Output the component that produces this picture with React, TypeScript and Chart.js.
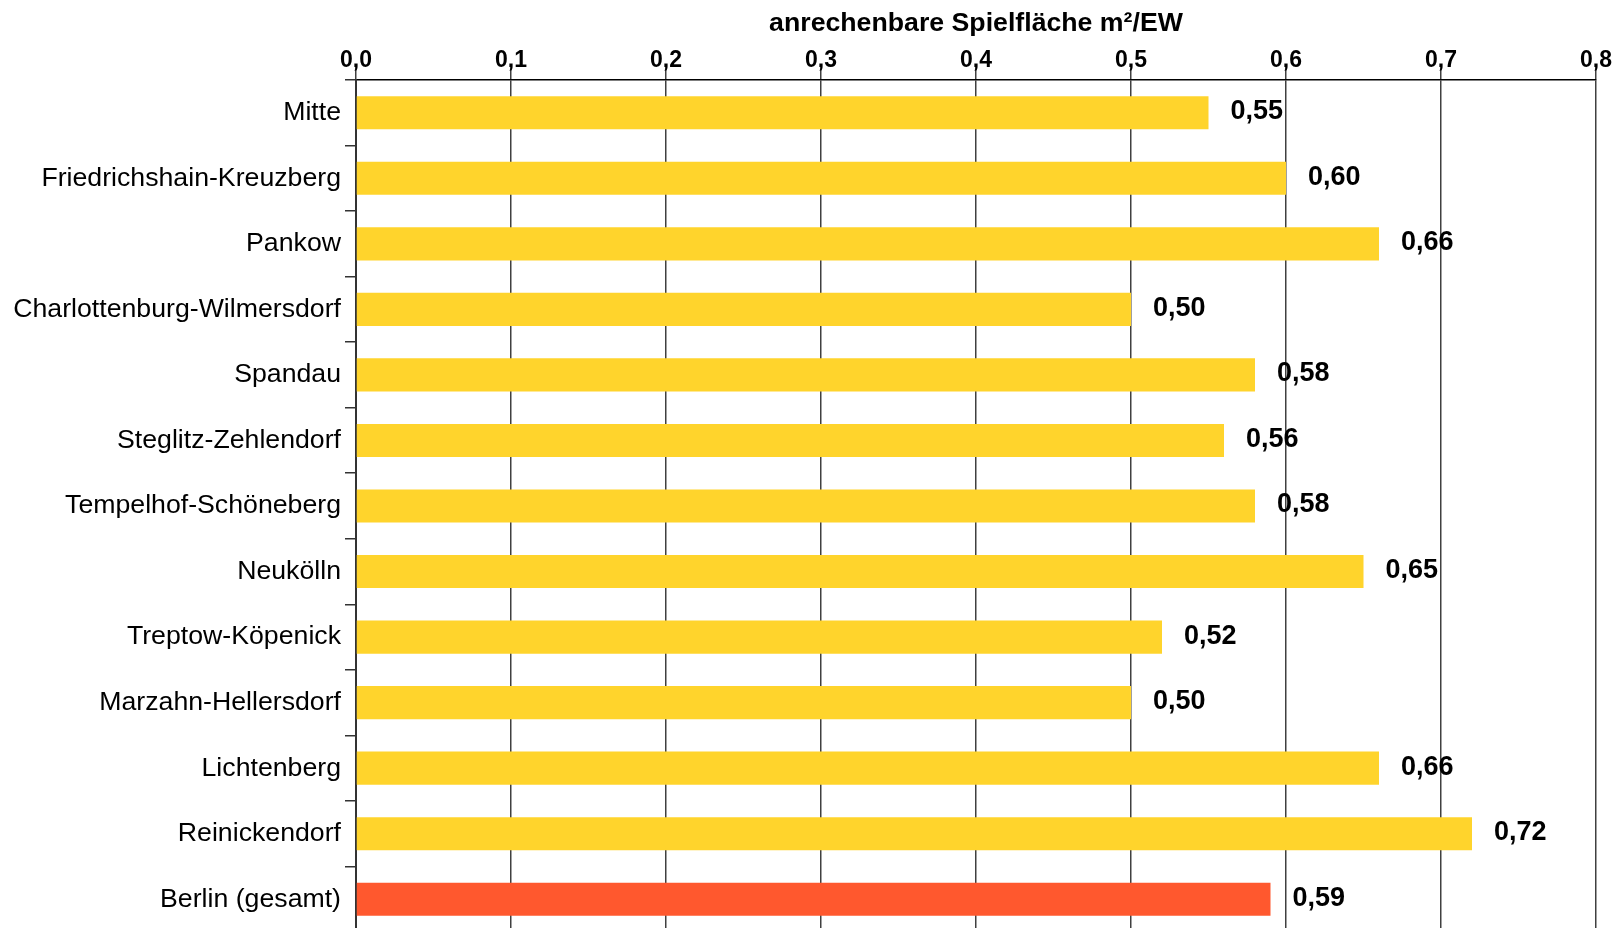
import React, { useEffect, useRef } from "react";
import { Chart, registerables } from "chart.js";

Chart.register(...registerables);

const categories = [
  "Mitte",
  "Friedrichshain-Kreuzberg",
  "Pankow",
  "Charlottenburg-Wilmersdorf",
  "Spandau",
  "Steglitz-Zehlendorf",
  "Tempelhof-Schöneberg",
  "Neukölln",
  "Treptow-Köpenick",
  "Marzahn-Hellersdorf",
  "Lichtenberg",
  "Reinickendorf",
  "Berlin (gesamt)",
];

const values = [0.55, 0.6, 0.66, 0.5, 0.58, 0.56, 0.58, 0.65, 0.52, 0.5, 0.66, 0.72, 0.59];

const valueLabels = ["0,55", "0,60", "0,66", "0,50", "0,58", "0,56", "0,58", "0,65", "0,52", "0,50", "0,66", "0,72", "0,59"];

const tickLabels = ["0,0", "0,1", "0,2", "0,3", "0,4", "0,5", "0,6", "0,7", "0,8"];

const axisTitle = "anrechenbare Spielfläche m²/EW";

const YELLOW = "#FFD42C";
const RED = "#FF582E";

const barColors = categories.map((c) => (c === "Berlin (gesamt)" ? RED : YELLOW));

const FONT = "'Liberation Sans', Arial, sans-serif";

const valueLabelPlugin = {
  id: "valueLabels",
  afterDatasetsDraw(chart: any) {
    const ctx = chart.ctx;
    const meta = chart.getDatasetMeta(0);
    ctx.save();
    ctx.font = `bold 27px ${FONT}`;
    ctx.fillStyle = "#000";
    ctx.textAlign = "left";
    ctx.textBaseline = "middle";
    meta.data.forEach((el: any, i: number) => {
      ctx.fillText(valueLabels[i], el.x + 22, el.y - 1);
    });
    ctx.restore();
  },
};

export default function App() {
  const ref = useRef<HTMLCanvasElement | null>(null);

  useEffect(() => {
    if (!ref.current) return;
    const chart = new Chart(ref.current, {
      type: "bar",
      data: {
        labels: categories,
        datasets: [
          {
            data: values,
            backgroundColor: barColors,
            borderWidth: 0,
            barPercentage: 0.505,
            categoryPercentage: 1,
          },
        ],
      },
      options: {
        indexAxis: "y",
        animation: false,
        responsive: false,
        maintainAspectRatio: false,
        layout: { padding: { left: 0, right: 23, top: 0, bottom: 0 } },
        plugins: {
          legend: { display: false },
          tooltip: { enabled: false },
          title: { display: false },
        },
        scales: {
          x: {
            position: "top",
            min: 0,
            max: 0.8,
            ticks: {
              stepSize: 0.1,
              color: "#000",
              font: { family: FONT, size: 23, weight: "bold" },
              padding: -7,
              maxRotation: 0,
              callback: (_v: any, i: number) => tickLabels[i],
            },
            grid: {
              color: "#404040",
              lineWidth: 1.5,
              tickLength: 13,
              tickColor: "#404040",
              drawOnChartArea: true,
            },
            border: { display: true, color: "#000", width: 1.5 },
            title: {
              display: true,
              text: axisTitle,
              color: "#000",
              font: { family: FONT, size: 26.7, weight: "bold" },
              padding: { top: 8, bottom: 0 },
            },
            afterFit: (scale: any) => {
              scale.height = 80;
            },
          },
          y: {
            ticks: {
              color: "#000",
              font: { family: FONT, size: 26.7 },
              padding: 4,
              autoSkip: false,
            },
            grid: {
              drawOnChartArea: false,
              offset: true,
              tickLength: 11,
              color: "#333",
              lineWidth: 1.5,
            },
            border: { display: true, color: "#333", width: 2 },
            afterFit: (scale: any) => {
              scale.width = 356;
              scale.paddingBottom = 0;
              scale.paddingTop = 0;
            },
          },
        },
      },
      plugins: [valueLabelPlugin],
    });
    return () => chart.destroy();
  }, []);

  return (
    <div
      style={{
        position: "fixed",
        left: 0,
        top: 0,
        width: 1619,
        height: 928,
        overflow: "hidden",
        background: "#fff",
      }}
    >
      <canvas ref={ref} width={1619} height={932} style={{ display: "block" }} />
    </div>
  );
}
